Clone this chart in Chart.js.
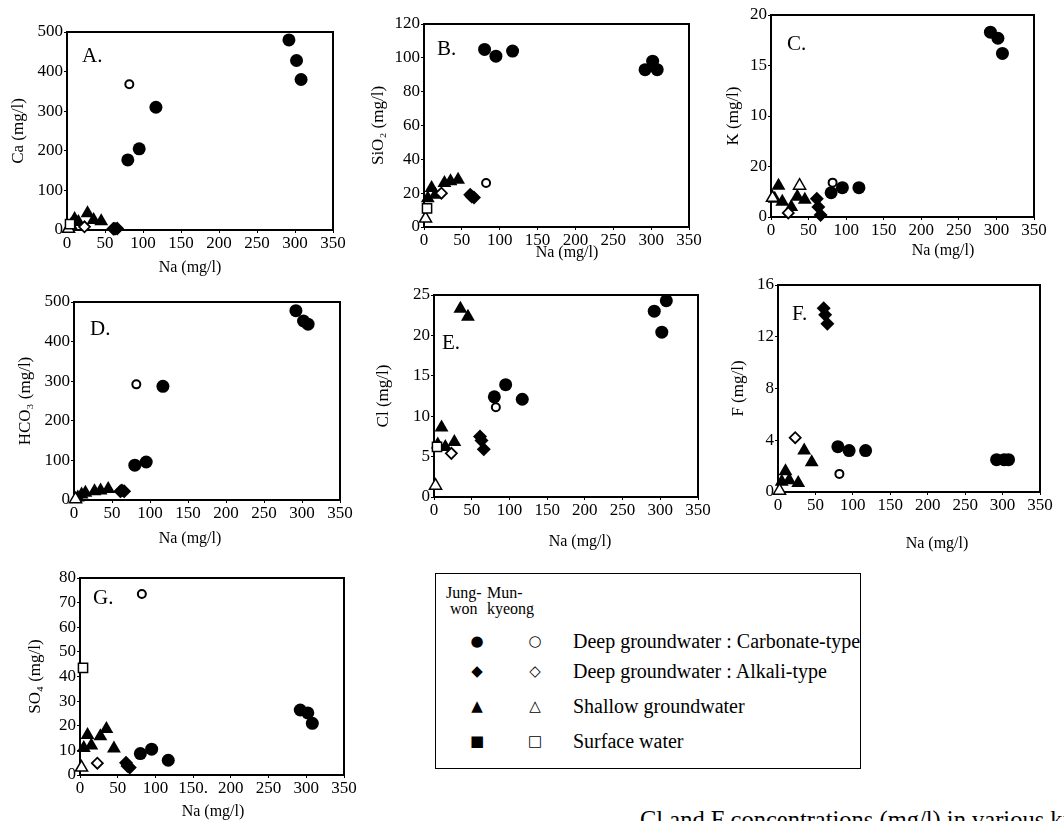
<!DOCTYPE html>
<html>
<head>
<meta charset="utf-8">
<script src="https://cdn.jsdelivr.net/npm/chart.js@4.4.1/dist/chart.umd.min.js"></script>
<style>
    body {
        margin: 0;
        width: 1064px;
        height: 821px;
        overflow: hidden;
        background: #fff;
        position: relative;
        font-family: "Liberation Serif", "DejaVu Serif", serif;
        color: #000;
    }
    canvas.panel { position: absolute; }
    #legend {
        position: absolute;
        left: 435px;
        top: 573px;
        width: 424px;
        height: 194px;
        border: 1.2px solid #000;
    }
    #legend div { position: absolute; white-space: nowrap; }
    #legend .head { font-size: 16px; line-height: 16px; }
    #legend .mark { font-family: "DejaVu Sans", sans-serif; font-size: 15px; transform: translate(-50%, -50%); }
    #legend .txt { font-size: 20px; transform: translateY(-50%); }
    #caption {
        position: absolute;
        left: 640px;
        top: 806px;
        font-size: 24.5px;
        white-space: nowrap;
    }
</style>
</head>
<body>
<div id="legend"></div>
<div id="caption">Cl and F concentrations (mg/l) in various ki</div>
<script>
// Na (mg/l) of each sample group, shared by all panels
const naJwCarb = [80, 95, 117, 292, 302, 308];
const naMkCarb = [82];
const naJwAlk = [61, 63, 66];
const naMkAlk = [23];
const naJwShallow = [5, 10, 15, 27, 35, 45];
const naMkShallow = [2, 38];
const naMkSurface = [4];

// A. Ca
const caJwCarb = [177, 205, 310, 480, 428, 380];
const caMkCarb = [368];
const caJwAlk = [3, 3, 4];
const caMkAlk = [8];
const caJwShallow = [12, 28, 20, 42, 25, 22];
const caMkShallow = [3, null];
const caMkSurface = [15];

// B. SiO2
const siJwCarb = [105, 101, 104, 93, 98, 93];
const siMkCarb = [26];
const siJwAlk = [19, 18, 17.5];
const siMkAlk = [20];
const siJwShallow = [17, 23, 19, 26, 27, 28];
const siMkShallow = [5, null];
const siMkSurface = [11];

// C. K
const kJwCarb = [2.4, 2.9, 2.9, 18.3, 17.7, 16.2];
const kMkCarb = [3.4];
const kJwAlk = [1.8, 1.0, 0.2];
const kMkAlk = [0.4];
const kJwShallow = [1.8, 3.1, 1.5, 1.0, 2.0, 1.7];
const kMkShallow = [1.9, 3.1];
const kMkSurface = [null];

// D. HCO3
const hco3JwCarb = [88, 96, 287, 478, 452, 444];
const hco3MkCarb = [292];
const hco3JwAlk = [22, 24, 22];
const hco3MkAlk = [null];
const hco3JwShallow = [6, 14, 18, 22, 24, 28];
const hco3MkShallow = [2, null];
const hco3MkSurface = [null];

// E. Cl
const clJwCarb = [12.4, 13.9, 12.1, 23.0, 20.4, 24.3];
const clMkCarb = [11.1];
const clJwAlk = [7.5, 7.0, 5.9];
const clMkAlk = [5.4];
const clJwShallow = [6.5, 8.6, 6.2, 6.8, 23.3, 22.3];
const clMkShallow = [1.4, null];
const clMkSurface = [6.2];

// F. F
const fJwCarb = [3.5, 3.2, 3.2, 2.5, 2.5, 2.5];
const fMkCarb = [1.4];
const fJwAlk = [14.2, 13.7, 13.0];
const fMkAlk = [4.2];
const fJwShallow = [0.8, 1.6, 0.9, 0.7, 3.2, 2.3];
const fMkShallow = [0.1, null];
const fMkSurface = [null];

// G. SO4
const so4JwCarb = [8.7, 10.5, 6.0, 26.4, 25.2, 21.0];
const so4MkCarb = [73.5];
const so4JwAlk = [5, 3.7, 3];
const so4MkAlk = [4.8];
const so4JwShallow = [11, 16.2, 12, 15.7, 18.7, 10.8];
const so4MkShallow = [3, null];
const so4MkSurface = [43.5];

// tick labels as printed
const naTickLabels = ['0', '50', '100', '150', '200', '250', '300', '350'];
const naTickLabelsG = ['0', '50', '100', '150.', '200', '250', '300', '350'];
const kTickLabels = ['0', '20', '10', '15', '20'];

const legendRows = [
    ['●', '○', 'Deep groundwater : Carbonate-type'],
    ['◆', '◇', 'Deep groundwater : Alkali-type'],
    ['▲', '△', 'Shallow groundwater'],
    ['■', '□', 'Surface water']
];

const markerStyles = {
    jwCarb: { pointStyle: 'circle', pointRadius: 6.5, pointBackgroundColor: '#000', pointBorderColor: '#000', pointBorderWidth: 0 },
    mkCarb: { pointStyle: 'circle', pointRadius: 4, pointBackgroundColor: '#fff', pointBorderColor: '#000', pointBorderWidth: 2 },
    jwAlk: { pointStyle: 'rectRot', pointRadius: 7, pointBackgroundColor: '#000', pointBorderColor: '#000', pointBorderWidth: 0 },
    mkAlk: { pointStyle: 'rectRot', pointRadius: 5.5, pointBackgroundColor: '#fff', pointBorderColor: '#000', pointBorderWidth: 1.8 },
    jwShallow: { pointStyle: 'triangle', pointRadius: 8, pointBackgroundColor: '#000', pointBorderColor: '#000', pointBorderWidth: 0 },
    mkShallow: { pointStyle: 'triangle', pointRadius: 7, pointBackgroundColor: '#fff', pointBorderColor: '#000', pointBorderWidth: 1.5 },
    mkSurface: { pointStyle: 'rect', pointRadius: 6.5, pointBackgroundColor: '#fff', pointBorderColor: '#000', pointBorderWidth: 1.5 }
};

function series(na, vals, style) {
    return Object.assign({
        data: na.map((x, i) => ({ x: x, y: vals[i] })),
        showLine: false,
        clip: false
    }, markerStyles[style]);
}

// open (Mun-kyeong) marks first so they sit on top
function groupSets(v) {
    return [
        series(naMkSurface, v[6], 'mkSurface'),
        series(naMkShallow, v[5], 'mkShallow'),
        series(naMkAlk, v[3], 'mkAlk'),
        series(naMkCarb, v[1], 'mkCarb'),
        series(naJwCarb, v[0], 'jwCarb'),
        series(naJwAlk, v[2], 'jwAlk'),
        series(naJwShallow, v[4], 'jwShallow')
    ];
}

const panels = [
    { box: [67, 32, 333, 230], max: 500, step: 100, yTitle: 'Ca (mg/l)', yTitleGap: 49, naTitle: [190, 268], tag: 'A.', tagAt: [82, 56],
      values: [caJwCarb, caMkCarb, caJwAlk, caMkAlk, caJwShallow, caMkShallow, caMkSurface] },
    { box: [424, 24, 689, 227], max: 120, step: 20, yTitle: 'SiO₂ (mg/l)', yTitleGap: 46, naTitle: [567, 253], tag: 'B.', tagAt: [437, 49],
      values: [siJwCarb, siMkCarb, siJwAlk, siMkAlk, siJwShallow, siMkShallow, siMkSurface] },
    { box: [771, 15, 1034, 217], max: 20, step: 5, yTitle: 'K (mg/l)', yTitleGap: 38, naTitle: [943, 251], tag: 'C.', tagAt: [787, 44],
      values: [kJwCarb, kMkCarb, kJwAlk, kMkAlk, kJwShallow, kMkShallow, kMkSurface], yLabels: kTickLabels },
    { box: [74, 302, 340, 500], max: 500, step: 100, yTitle: 'HCO₃ (mg/l)', yTitleGap: 49, naTitle: [190, 539], tag: 'D.', tagAt: [90, 329],
      values: [hco3JwCarb, hco3MkCarb, hco3JwAlk, hco3MkAlk, hco3JwShallow, hco3MkShallow, hco3MkSurface] },
    { box: [434, 295, 698, 497], max: 25, step: 5, yTitle: 'Cl (mg/l)', yTitleGap: 51, naTitle: [580, 542], tag: 'E.', tagAt: [442, 343],
      values: [clJwCarb, clMkCarb, clJwAlk, clMkAlk, clJwShallow, clMkShallow, clMkSurface] },
    { box: [778, 285, 1040, 492], max: 16, step: 4, yTitle: 'F (mg/l)', yTitleGap: 40, naTitle: [937, 544], tag: 'F.', tagAt: [792, 314],
      values: [fJwCarb, fMkCarb, fJwAlk, fMkAlk, fJwShallow, fMkShallow, fMkSurface] },
    { box: [80, 578, 344, 775], max: 80, step: 10, yTitle: 'SO₄ (mg/l)', yTitleGap: 45, naTitle: [213, 812], tag: 'G.', tagAt: [93, 598],
      values: [so4JwCarb, so4MkCarb, so4JwAlk, so4MkAlk, so4JwShallow, so4MkShallow, so4MkSurface], xLabels: naTickLabelsG }
];

const serif = '"Liberation Serif", "DejaVu Serif", serif';

// box frame, panel letter and the Na title
const panelDecor = {
    id: 'panelDecor',
    beforeDatasetsDraw(chart) {
        const a = chart.chartArea;
        const ctx = chart.ctx;
        ctx.save();
        ctx.strokeStyle = '#000';
        ctx.lineWidth = 2;
        ctx.strokeRect(a.left, a.top, a.right - a.left, a.bottom - a.top);
        ctx.restore();
    },
    afterDraw(chart, args, opts) {
        const ctx = chart.ctx;
        ctx.save();
        ctx.fillStyle = '#000';
        ctx.textBaseline = 'middle';
        ctx.font = '21px ' + serif;
        ctx.textAlign = 'left';
        ctx.fillText(opts.tag, opts.tagAt[0], opts.tagAt[1]);
        ctx.font = '16px ' + serif;
        ctx.textAlign = 'center';
        ctx.fillText('Na (mg/l)', opts.naTitle[0], opts.naTitle[1]);
        ctx.restore();
    }
};

function makePanel(p) {
    const axisW = p.yTitleGap + 10;
    const padTop = 14, padRight = 16;
    const axisH = Math.max(p.naTitle[1] - p.box[3] + 14, 30);
    const plotW = p.box[2] - p.box[0];
    const plotH = p.box[3] - p.box[1];
    const left = p.box[0] - axisW;
    const top = p.box[1] - padTop;

    const canvas = document.createElement('canvas');
    canvas.className = 'panel';
    canvas.width = axisW + plotW + padRight;
    canvas.height = padTop + plotH + axisH;
    canvas.style.left = left + 'px';
    canvas.style.top = top + 'px';
    document.body.appendChild(canvas);

    const xLabels = p.xLabels || naTickLabels;

    new Chart(canvas.getContext('2d'), {
        type: 'scatter',
        data: { datasets: groupSets(p.values) },
        options: {
            responsive: false,
            animation: false,
            layout: { padding: { top: padTop, right: padRight, left: 0, bottom: 0 } },
            plugins: {
                legend: { display: false },
                tooltip: { enabled: false },
                panelDecor: {
                    tag: p.tag,
                    tagAt: [p.tagAt[0] - left, p.tagAt[1] - top],
                    naTitle: [p.naTitle[0] - left, p.naTitle[1] - top]
                }
            },
            scales: {
                x: {
                    type: 'linear',
                    min: 0,
                    max: 350,
                    ticks: {
                        stepSize: 50,
                        autoSkip: false,
                        maxRotation: 0,
                        padding: 0,
                        color: '#000',
                        font: { family: serif, size: 17 },
                        callback: (v, i) => xLabels[i]
                    },
                    grid: { drawOnChartArea: false, tickLength: 3, color: '#000' },
                    border: { color: '#000', width: 2 },
                    afterFit: s => { s.height = axisH; }
                },
                y: {
                    min: 0,
                    max: p.max,
                    ticks: {
                        stepSize: p.step,
                        padding: 1,
                        color: '#000',
                        font: { family: serif, size: 17 },
                        callback: (v, i) => p.yLabels ? p.yLabels[i] : String(v)
                    },
                    grid: { drawOnChartArea: false, tickLength: 3, color: '#000' },
                    border: { color: '#000', width: 2 },
                    title: {
                        display: true,
                        text: p.yTitle,
                        color: '#000',
                        padding: 0,
                        font: { family: serif, size: 17 }
                    },
                    afterFit: s => { s.width = axisW; }
                }
            }
        },
        plugins: [panelDecor]
    });
}

function buildLegend() {
    const box = document.getElementById('legend');
    const add = (cls, text, x, y) => {
        const d = document.createElement('div');
        d.className = cls;
        d.innerHTML = text;
        d.style.left = x + 'px';
        d.style.top = y + 'px';
        box.appendChild(d);
    };
    add('head', 'Jung-<br>&nbsp;won', 10, 11);
    add('head', 'Mun-<br>kyeong', 51, 11);
    legendRows.forEach((row, i) => {
        const y = [67, 97, 132, 167][i];
        add('mark', row[0], 41, y);
        add('mark', row[1], 99, y);
        add('txt', row[2], 137, y);
    });
}

panels.forEach(makePanel);
buildLegend();
</script>
</body>
</html>
